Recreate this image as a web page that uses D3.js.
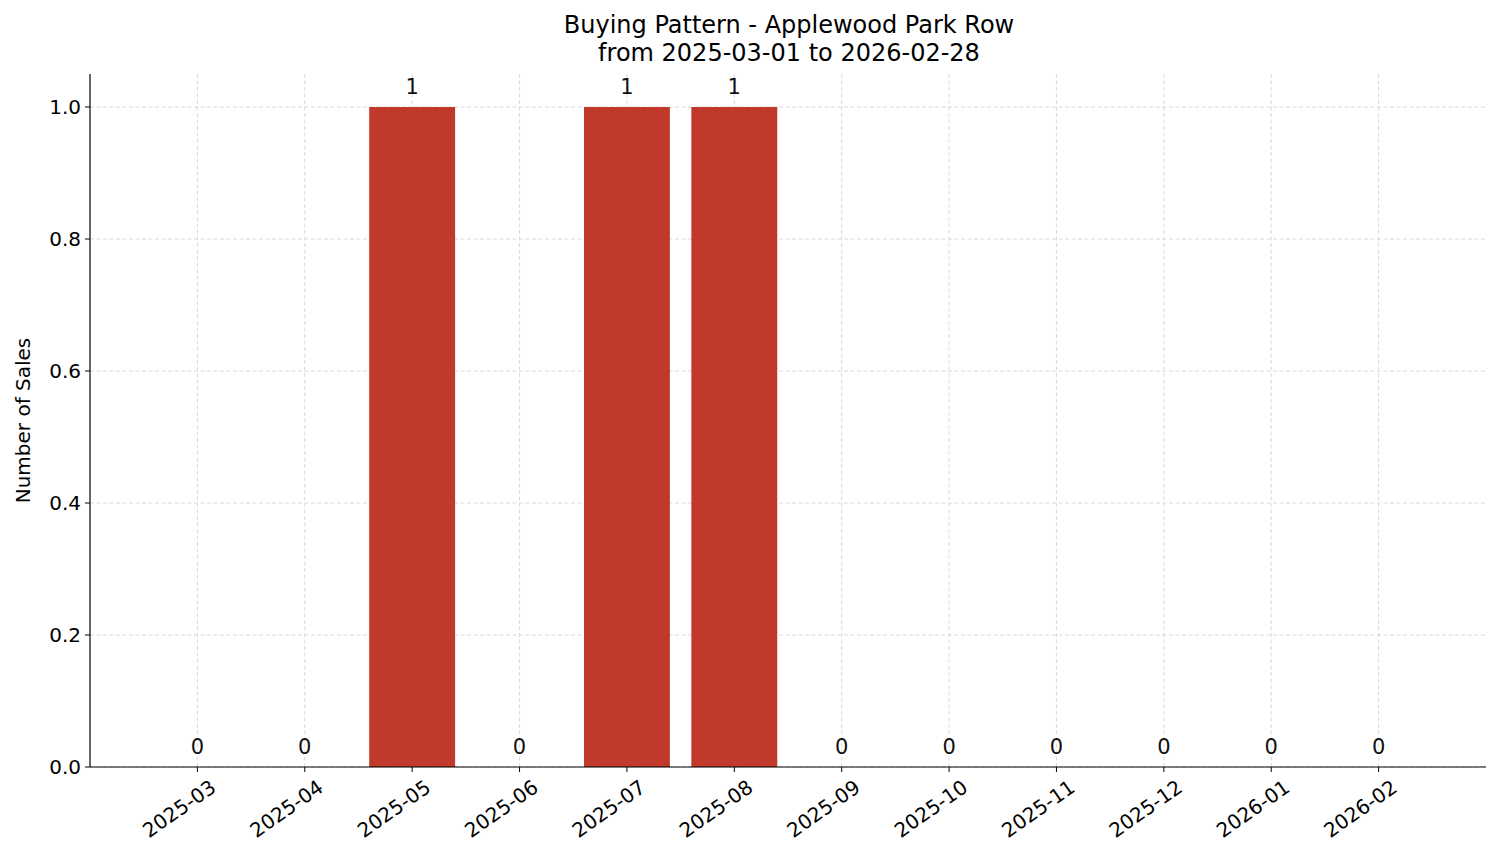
<!DOCTYPE html>
<html><head><meta charset="utf-8">
<script src="https://cdn.jsdelivr.net/npm/d3@7"></script>
<style>body{margin:0;background:#fff}svg{font-family:"DejaVu Sans",sans-serif}</style>
</head><body><svg id="c" width="1501" height="863"></svg>
<script>
const months = ["2025-03","2025-04","2025-05","2025-06","2025-07","2025-08","2025-09","2025-10","2025-11","2025-12","2026-01","2026-02"];
const sales = [0,0,1,0,1,1,0,0,0,0,0,0];
const yTicks = [0,0.2,0.4,0.6,0.8,1.0];
const svg = d3.select("#c");
const L=90,R=1486,T=74,B=767;
const x = d3.scaleLinear().domain([-1,12]).range([L,R]);
const y = d3.scaleLinear().domain([0,1.05]).range([B,T]);
const bw = (x(0.8)-x(0));
const g = svg.append("g");
g.selectAll(".gy").data(yTicks).join("line").attr("x1",L).attr("x2",R).attr("y1",d=>y(d)).attr("y2",d=>y(d))
 .attr("stroke","#d0d0d0").attr("stroke-width",0.8).attr("stroke-dasharray","4,2.5");
g.selectAll(".gx").data(months).join("line").attr("x1",(d,i)=>x(i)).attr("x2",(d,i)=>x(i)).attr("y1",T).attr("y2",B)
 .attr("stroke","#d0d0d0").attr("stroke-width",0.8).attr("stroke-dasharray","4,2.5");
g.selectAll(".bar").data(sales).join("rect").attr("x",(d,i)=>x(i)-bw/2).attr("width",bw)
 .attr("y",d=>y(d)).attr("height",d=>B-y(d)).attr("fill","#c0392b");
g.selectAll(".lbl").data(sales).join("text").attr("x",(d,i)=>x(i)).attr("y",d=>y(d)-13)
 .attr("text-anchor","middle").attr("font-size",21).attr("fill","#111").text(d=>d);
svg.append("line").attr("x1",L).attr("x2",L).attr("y1",T).attr("y2",B).attr("stroke","#000").attr("stroke-width",1.2);
svg.append("line").attr("x1",L).attr("x2",R).attr("y1",B).attr("y2",B).attr("stroke","#000").attr("stroke-width",1.2);
yTicks.forEach(t=>{
  svg.append("line").attr("x1",L-5).attr("x2",L).attr("y1",y(t)).attr("y2",y(t)).attr("stroke","#000");
  svg.append("text").attr("x",L-9).attr("y",y(t)).attr("dy","0.35em").attr("text-anchor","end").attr("font-size",20).text(t.toFixed(1));
});
months.forEach((m,i)=>{
  svg.append("line").attr("x1",x(i)).attr("x2",x(i)).attr("y1",B).attr("y2",B+5).attr("stroke","#000");
  svg.append("text").attr("transform",`translate(${x(i)+12},${B+12}) rotate(-35)`).attr("text-anchor","end")
   .attr("dy","0.7em").attr("font-size",20).text(m);
});
svg.append("text").attr("transform",`translate(30,${(T+B)/2}) rotate(-90)`).attr("text-anchor","middle").attr("font-size",20).text("Number of Sales");
svg.append("text").attr("x",789).attr("y",33).attr("text-anchor","middle").attr("font-size",24).text("Buying Pattern - Applewood Park Row");
svg.append("text").attr("x",789).attr("y",61).attr("text-anchor","middle").attr("font-size",24).text("from 2025-03-01 to 2026-02-28");
</script></body></html>
